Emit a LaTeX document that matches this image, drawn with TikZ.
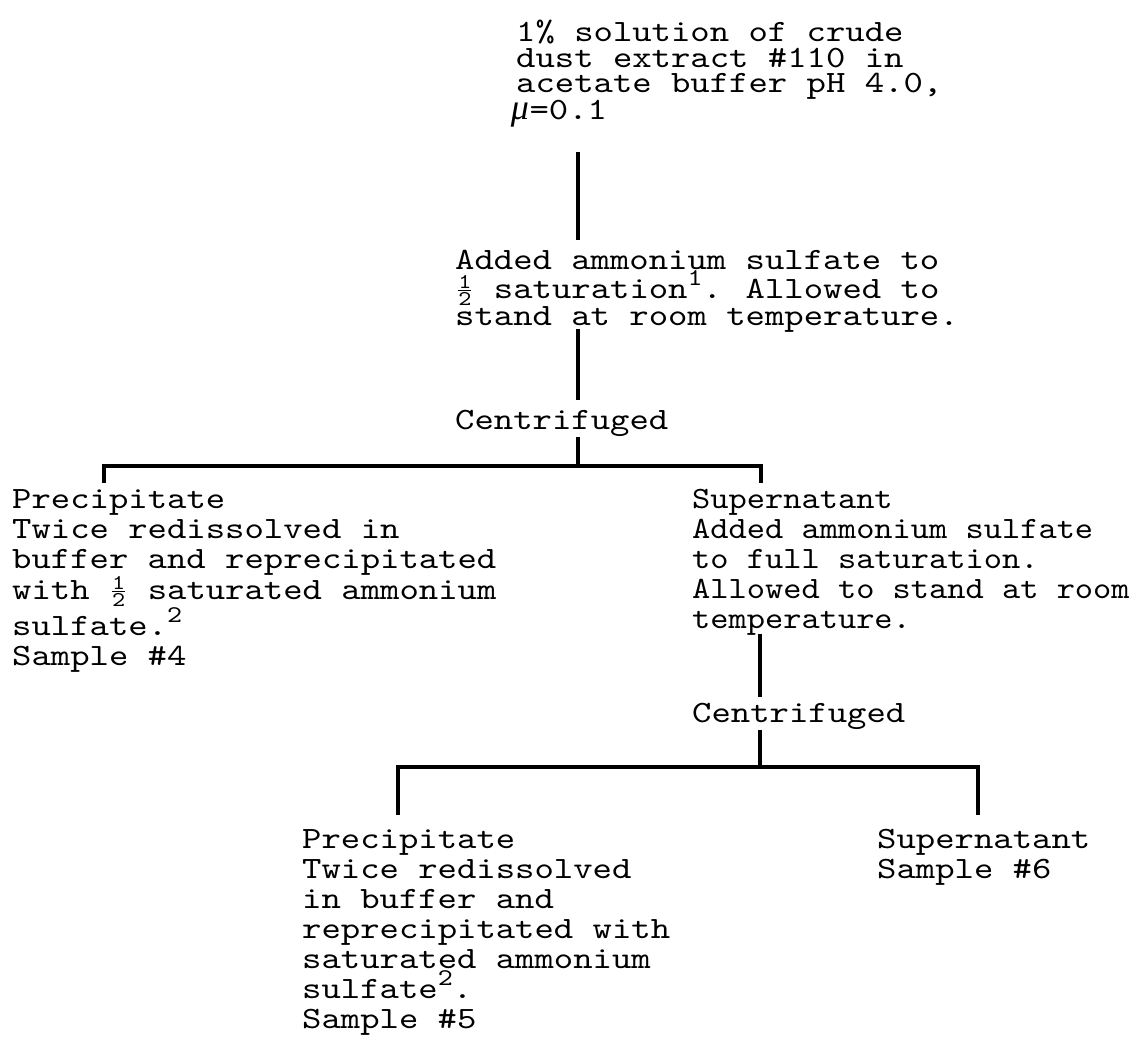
\documentclass[tikz,border=0pt]{standalone}
\usepackage{fontspec}
% typewriter face, widened to the pitch of the typed sheet
\newfontfamily\tw{lmmono10-regular.otf}[FakeStretch=1.19]
\newfontfamily\twn{lmmono10-regular.otf}[FakeStretch=1.12]
\newfontfamily\handgreek{Liberation Serif}
\newcommand\cell{19.37pt}
% typed one-half: small 1 over 2 in a single character cell
\newcommand\half{\makebox[\cell][c]{\raisebox{-7pt}{\fontsize{21}{21}\selectfont
  \vbox{\halign{\hfil##\hfil\cr 1\cr\noalign{\kern1.5pt\hrule height 1pt\kern1.5pt}2\cr}}}}}
\newcommand\sups[1]{\raisebox{0.42em}{\fontsize{24}{24}\selectfont #1}}
\newcommand\mumark{\makebox[\cell][c]{\handgreek\itshape\fontsize{36}{36}\selectfont μ}}
\begin{document}
\begin{tikzpicture}[x=1pt,y=-1pt,
  txt/.style={anchor=north west, inner sep=0pt, align=left,
    font=\tw\fontsize{31}{30}\selectfont\frenchspacing},
  tight/.style={font=\tw\fontsize{31}{25.5}\selectfont\frenchspacing},
  narrow/.style={font=\twn\fontsize{31}{30}\selectfont\frenchspacing},
  link/.style={line width=3.5pt, line cap=butt}]
\useasboundingbox[fill=white] (0,0) rectangle (1133,1054);

% starting material
\node[txt,tight] (start) at (516,20)
  {1\% solution of crude\\dust extract \#110 in\\acetate buffer pH 4.0,\\\hspace*{-6pt}\mumark=0.1};
% first salting out
\node[txt,tight] (salt1) at (455,250)
  {Added ammonium sulfate to\\\makebox[15\dimexpr\cell\relax][l]{\half\ saturation\sups{1}.}Allowed to\\stand at room temperature.};
\node[txt] (cent1) at (455,410) {Centrifuged};
% first split
\node[txt] (prec1) at (12,489)
  {Precipitate\\Twice redissolved in\\buffer and reprecipitated\\with \half\ saturated ammonium\\sulfate.\sups{2}\\Sample \#4};
\node[txt,narrow] (sup1) at (692,489)
  {Supernatant\\Added ammonium sulfate\\to full saturation.\\Allowed to stand at room\\temperature.};
\node[txt] (cent2) at (692,703) {Centrifuged};
% second split
\node[txt] (prec2) at (302,829)
  {Precipitate\\Twice redissolved\\in buffer and\\reprecipitated with\\saturated ammonium\\sulfate\sups{2}.\\Sample \#5};
\node[txt] (sup2) at (877,829) {Supernatant\\Sample \#6};

% spine positions and branch bars
\coordinate (spine1) at (578,0);
\coordinate (spine2) at (760,0);
\coordinate (bar1) at (578,466);
\coordinate (bar2) at (760,767);
\coordinate (drop1l) at (104,483);
\coordinate (drop1r) at (761,483);
\coordinate (drop2l) at (398,815);
\coordinate (drop2r) at (978,815);

\draw[link] ([yshift=-24pt]start.south -| spine1) -- ([yshift=10pt]salt1.north -| spine1);
\draw[link] ([yshift=4pt]salt1.south -| spine1) -- ([yshift=10pt]cent1.north -| spine1);
\draw[link] (cent1.south -| spine1) -- (bar1);
\draw[link] (drop1l) |- (bar1) -| (drop1r);
\draw[link] ([yshift=2pt]sup1.south -| spine2) -- ([yshift=6pt]cent2.north -| spine2);
\draw[link] (cent2.south -| spine2) -- (bar2);
\draw[link] (drop2l) |- (bar2) -| (drop2r);
\end{tikzpicture}
\end{document}
